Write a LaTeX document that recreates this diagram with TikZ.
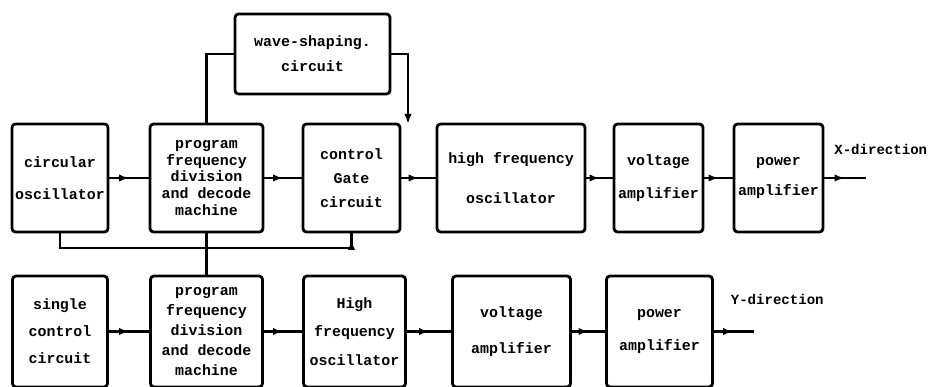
\documentclass[tikz,border=0pt]{standalone}
\usepackage{fontspec}
\setmonofont{Liberation Mono}
\usepackage{tikz}
\usetikzlibrary{arrows.meta,positioning,decorations.markings}

\begin{document}
\begin{tikzpicture}[
        node distance=0.8cm,
        blockbox/.style={draw, line width=1.6pt, rounded corners=2pt, inner sep=1pt, outer sep=0pt, minimum height=2.16cm, align=center, font=\ttfamily\bfseries\fontsize{8.5}{9.6}\selectfont},
        lowbox/.style={blockbox, minimum height=2.22cm},
        dirlabel/.style={inner sep=0pt, font=\ttfamily\bfseries\fontsize{8}{9.6}\selectfont},
        link/.style={line width=1.4pt},
        arrow/.style={link, decoration={markings, mark=at position 0.5 with {\arrow{Latex[length=2mm,width=1.5mm]}}}, postaction={decorate}}
    ]
        \useasboundingbox (0,0) rectangle (18.64,-7.74);

        % X-direction channel
        \node[blockbox, minimum width=1.92cm] (circ) at (1.2,-3.56) {circular\\[8.5pt]oscillator};
        \node[blockbox, minimum width=2.26cm, right=0.84cm of circ] (progx) {program\\frequency\\division\\and decode\\machine};
        \node[blockbox, minimum width=1.94cm, right=0.8cm of progx] (gate) {control\\[4pt]Gate\\[4pt]circuit};
        \node[blockbox, minimum width=2.96cm, right=0.74cm of gate] (hfx) {high frequency\\[13pt]oscillator};
        \node[blockbox, minimum width=1.78cm, right=0.58cm of hfx] (voltx) {voltage\\[9pt]amplifier};
        \node[blockbox, minimum width=1.78cm, right=0.62cm of voltx] (powx) {power\\[7.4pt]amplifier};
        \node[blockbox, minimum width=3.1cm, minimum height=1.6cm, above=0.6cm of gate, xshift=-0.78cm] (wave) {wave-shaping.\\[4.6pt]circuit};
        \coordinate[right=0.86cm of powx] (xout);
        \node[dirlabel, anchor=base west] (xlab) at ([xshift=0.22cm,yshift=0.46cm]powx.east) {X-direction};

        % Y-direction channel
        \node[lowbox, minimum width=2.24cm, below=0.88cm of progx] (progy) {program\\[1.7pt]frequency\\[1.7pt]division\\[1.7pt]and decode\\[1.7pt]machine};
        \node[lowbox, minimum width=1.9cm, left=0.86cm of progy] (single) {single\\[5.7pt]control\\[5.7pt]circuit};
        \node[lowbox, minimum width=2.04cm, right=0.82cm of progy] (hfy) {High\\[6.8pt]frequency\\[6.8pt]oscillator};
        \node[lowbox, minimum width=2.36cm, right=0.94cm of hfy] (volty) {voltage\\[10.8pt]amplifier};
        \node[lowbox, minimum width=2.12cm, right=0.72cm of volty] (powy) {power\\[9pt]amplifier};
        \coordinate[right=0.82cm of powy] (yout);
        \node[dirlabel, anchor=base west] (ylab) at ([xshift=0.36cm,yshift=0.54cm]powy.east) {Y-direction};

        % common bus
        \coordinate[below=0.32cm of circ.south] (busl);
        \coordinate (busr) at (gate.south |- busl);

        \draw[arrow] (circ) -- (progx);
        \draw[arrow] (progx) -- (gate);
        \draw[arrow] (gate) -- (hfx);
        \draw[arrow] (hfx) -- (voltx);
        \draw[arrow] (voltx) -- (powx);
        \draw[arrow] (powx.east) -- (xout);
        \draw[link] (progx.north) |- (wave.west);
        \draw[link, -{Latex[length=2mm,width=1.5mm]}] (wave.east) -| ([xshift=0.16cm]gate.north east);

        \draw[link] (circ.south) -- (busl) -- (busr);
        \draw[link] (progx.south) -- (progy.north);
        \draw[arrow] (busr) -- (gate.south);

        \draw[arrow] (single) -- (progy);
        \draw[arrow] (progy) -- (hfy);
        \draw[arrow] (hfy) -- (volty);
        \draw[arrow] (volty) -- (powy);
        \draw[arrow] (powy.east) -- (yout);
    \end{tikzpicture}
\end{document}
